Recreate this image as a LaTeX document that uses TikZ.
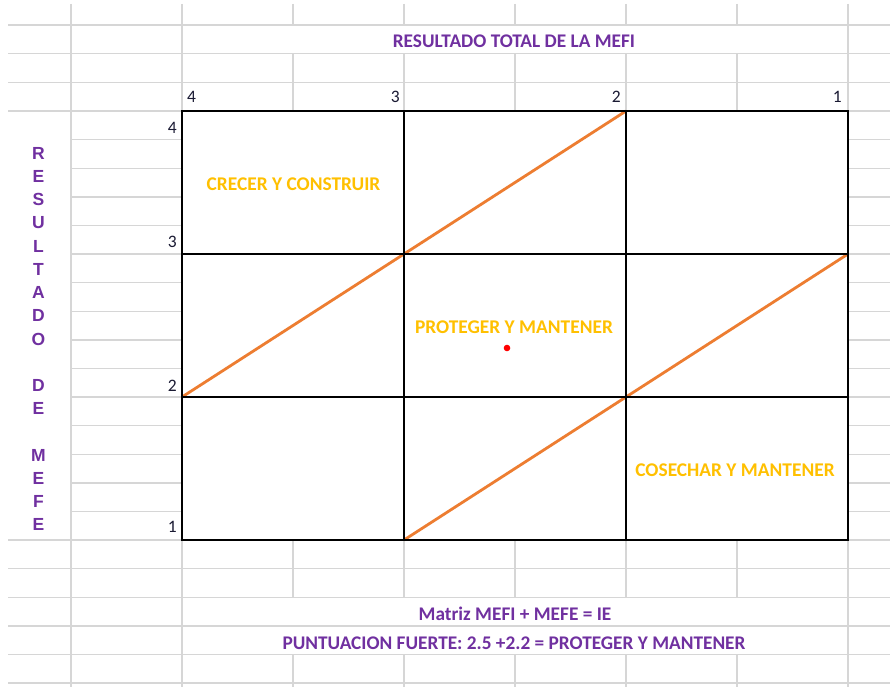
\documentclass[tikz,border=0pt]{standalone}
\usepackage{fontspec}
\setmainfont{Carlito}
\newfontfamily\blockfont{Liberation Sans}
\definecolor{mpurple}{HTML}{7030A0}
\definecolor{myellow}{HTML}{FFC000}
\definecolor{morange}{HTML}{ED7D31}
\definecolor{mgrid}{HTML}{D6D6D6}
\definecolor{mnum}{HTML}{1A1A33}
\tikzset{
  gridln/.style={draw=mgrid, line width=1.4pt},
  frame/.style={draw=black, line width=2.8pt, line cap=rect},
  diag/.style={draw=morange, line width=2.8pt},
  ttl/.style={font=\fontsize{19.3}{20}\selectfont\bfseries, text=mpurple, inner sep=0pt, anchor=base},
  quad/.style={font=\fontsize{19.4}{20}\selectfont\bfseries, text=myellow, inner sep=0pt, anchor=base},
  num/.style={font=\fontsize{17.5}{18}\selectfont, text=mnum, inner sep=0pt},
  vlet/.style={font=\blockfont\fontsize{17.5}{18}\selectfont\bfseries, text=mpurple, inner sep=0pt, anchor=base}
}
\begin{document}
\begin{tikzpicture}[x=1pt,y=-1pt]
\useasboundingbox (0,0) rectangle (890,687);
\fill[white] (0,0) rectangle (890,687);
% horizontal grid lines
\foreach \k in {-3,-2,-1,0,15,16,17,18,19,20}{
  \draw[gridln] (8,111+28.6*\k) -- (890,111+28.6*\k);
}
\foreach \k in {1,...,14}{
  \draw[gridln] (71,111+28.6*\k) -- (182,111+28.6*\k);
  \draw[gridln] (848,111+28.6*\k) -- (890,111+28.6*\k);
}
% vertical grid lines
\foreach \x in {71,182,848}{
  \draw[gridln] (\x,4) -- (\x,687);
}
\foreach \x in {293,404,515,626,737}{
  \draw[gridln] (\x,4) -- (\x,25.2);
  \draw[gridln] (\x,53.8) -- (\x,111);
  \draw[gridln] (\x,540) -- (\x,597.2);
  \draw[gridln] (\x,654.4) -- (\x,687);
}
% matrix
\coordinate (m11) at (182,111);
\coordinate (m12) at (404,111);
\coordinate (m13) at (626,111);
\coordinate (m14) at (848,111);
\coordinate (m21) at (182,254);
\coordinate (m24) at (848,254);
\coordinate (m31) at (182,397);
\coordinate (m34) at (848,397);
\coordinate (m41) at (182,540);
\coordinate (m42) at (404,540);
\coordinate (m43) at (626,540);
\coordinate (m44) at (848,540);
\draw[diag] (m31) -- (m13);
\draw[diag] (m42) -- (m24);
\draw[frame] (m11) rectangle (m44);
\draw[frame] (m12) -- (m42);
\draw[frame] (m13) -- (m43);
\draw[frame] (m21) -- (m24);
\draw[frame] (m31) -- (m34);
\fill[red] (507,348) circle (3.3);
\node (dot) at (507,348) {};
% titles
\node[ttl] (title) at (514,48) {RESULTADO TOTAL DE LA MEFI};
\node[ttl] (f1) at (515,620.5) {Matriz MEFI + MEFE = IE};
\node[ttl] (f2) at (514,649) {PUNTUACION FUERTE: 2.5 +2.2 = PROTEGER Y MANTENER};
% quadrant labels
\node[quad] (q1) at (293.5,190) {CRECER Y CONSTRUIR};
\node[quad] (q2) at (514,333) {PROTEGER Y MANTENER};
\node[quad] (q3) at (735,476) {COSECHAR Y MANTENER};
% axis numbers top
\node[num, anchor=base west] (t4) at (187,103) {4};
\node[num, anchor=base east] (t3) at (400,103) {3};
\node[num, anchor=base east] (t2) at (621,103) {2};
\node[num, anchor=base east] (t1) at (842,103) {1};
% axis numbers left
\node[num, anchor=base east] (l4) at (177,134) {4};
\node[num, anchor=base east] (l3) at (177,247) {3};
\node[num, anchor=base east] (l2) at (177,391) {2};
\node[num, anchor=base east] (l1) at (177,532) {1};
% vertical label
\foreach \c [count=\i from 0] in {R,E,S,U,L,T,A,D,O,{},D,E,{},M,E,F,E}{
  \node[vlet] (v\i) at (38.5,159.3+23.23*\i) {\c};
}
\end{tikzpicture}
\end{document}
